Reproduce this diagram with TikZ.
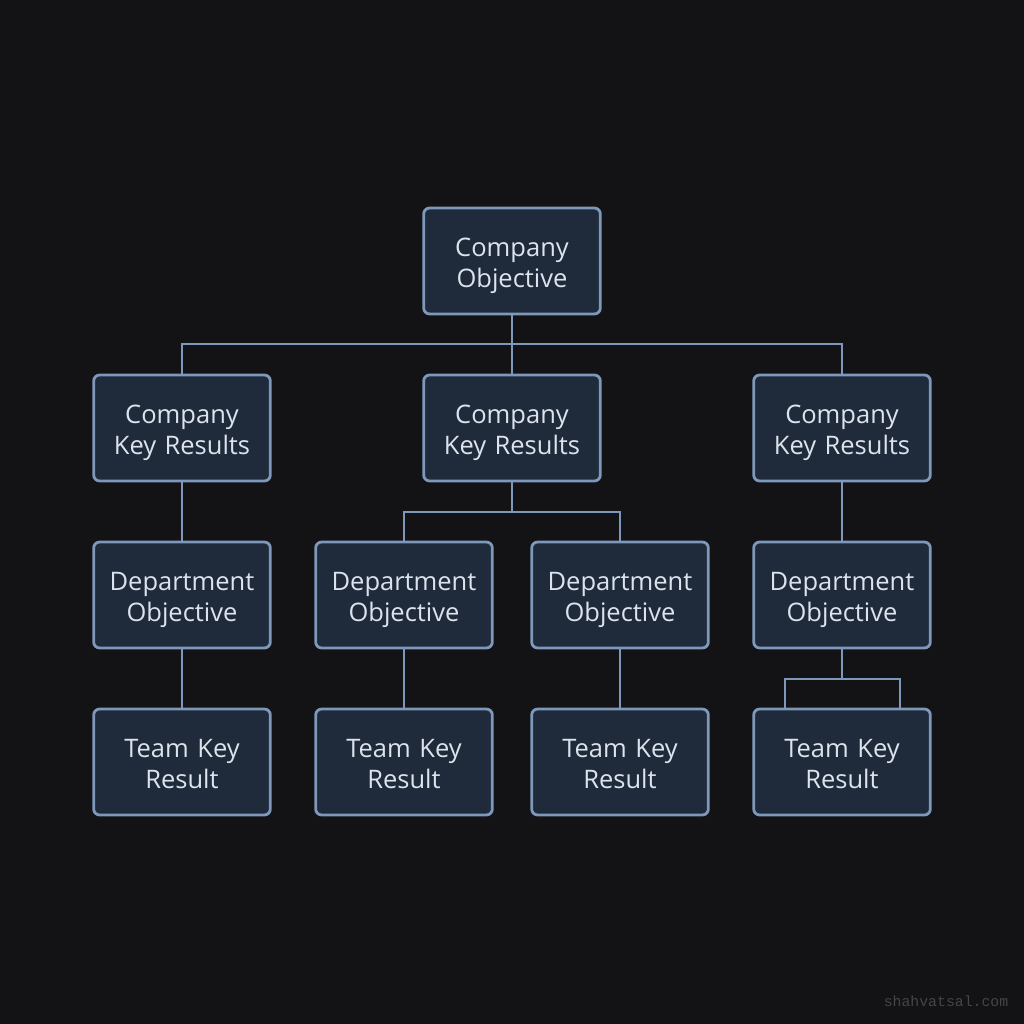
\documentclass[tikz,border=0pt]{standalone}
\usepackage{fontspec}
\setmainfont{Open Sans}
\newfontfamily\wmfont{Liberation Mono}
\usepackage{xcolor}
\usetikzlibrary{positioning, calc}

\definecolor{bgdark}{HTML}{131316}
\definecolor{boxfill}{HTML}{1F2B3B}
\definecolor{boxline}{HTML}{7D98BA}
\definecolor{boxtext}{HTML}{DCE3EC}
\definecolor{wmgray}{HTML}{454549}

\begin{document}
\begin{tikzpicture}[x=1pt, y=-1pt,
    okrbox/.style={draw=boxline, fill=boxfill, line width=2.8pt, rounded corners=6pt,
        minimum width=176pt, minimum height=106pt, text width=170pt, align=center,
        text=boxtext, font=\fontsize{25.5}{31}\selectfont,
        text height=27pt, text depth=37pt},
    link/.style={draw=boxline, line width=2.8pt}]
    % Background
    \fill[bgdark] (0,0) rectangle (1024,1024);
    \useasboundingbox (0,0) rectangle (1024,1024);
    
    % Company objective
    \node[okrbox] (co) at (512,261) {Company\\Objective};
    
    % Company key results
    \node[okrbox] (ckr1) at (182,428) {Company\\Key Results};
    \node[okrbox] (ckr2) at (512,428) {Company\\Key Results};
    \node[okrbox] (ckr3) at (842,428) {Company\\Key Results};
    
    % Department objectives
    \node[okrbox] (do1) at (182,595) {Department\\Objective};
    \node[okrbox] (do2) at (404,595) {Department\\Objective};
    \node[okrbox] (do3) at (620,595) {Department\\Objective};
    \node[okrbox] (do4) at (842,595) {Department\\Objective};
    
    % Team key results
    \node[okrbox] (tkr1) at (182,762) {Team Key\\Result};
    \node[okrbox] (tkr2) at (404,762) {Team Key\\Result};
    \node[okrbox] (tkr3) at (620,762) {Team Key\\Result};
    \node[okrbox] (tkr4) at (842,762) {Team Key\\Result};
    
    % Junctions
    \coordinate (j1) at (512,344);
    \coordinate (j2) at (512,512);
    \coordinate (j3) at (842,679);
    \coordinate (f1) at (785,708);
    \coordinate (f2) at (900,708);
    
    % Objective to key results
    \draw[link] (co.south) -- (j1);
    \draw[link] (ckr1.north) |- (j1) -| (ckr3.north);
    \draw[link] (j1) -- (ckr2.north);
    
    % Key results to department objectives
    \draw[link] (ckr1.south) -- (do1.north);
    \draw[link] (ckr2.south) -- (j2);
    \draw[link] (do2.north) |- (j2) -| (do3.north);
    \draw[link] (ckr3.south) -- (do4.north);
    
    % Department objectives to team key results
    \draw[link] (do1.south) -- (tkr1.north);
    \draw[link] (do2.south) -- (tkr2.north);
    \draw[link] (do3.south) -- (tkr3.north);
    \draw[link] (do4.south) -- (j3);
    \draw[link] (f1) |- (j3) -| (f2);
    
    % Watermark
    \node[text=wmgray, font=\wmfont\fontsize{14.8}{15}\selectfont] (wm) at (946,1001) {shahvatsal.com};
\end{tikzpicture}
\end{document}
